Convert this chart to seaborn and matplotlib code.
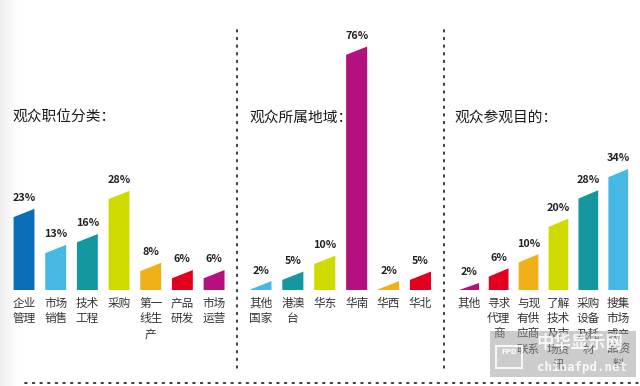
import numpy as np
import pandas as pd
import matplotlib
matplotlib.use("Agg")
import matplotlib.pyplot as plt
import seaborn as sns
from matplotlib.patches import Polygon, Rectangle

# panel 1: audience by job
job_labels = ["企业\n管理", "市场\n销售", "技术\n工程", "采购", "第一\n线生\n产", "产品\n研发", "市场\n运营"]
job_values = [23, 13, 16, 28, 8, 6, 6]
job_colors = ["#0a6fb6", "#45b9e3", "#14979f", "#cfdb00", "#f0b018", "#e3001f", "#b4107e"]

# panel 2: audience by region
region_labels = ["其他\n国家", "港澳\n台", "华东", "华南", "华西", "华北"]
region_values = [2, 5, 10, 76, 2, 5]
region_colors = ["#45b9e3", "#14979f", "#cfdb00", "#b4107e", "#f0b018", "#e3001f"]

# panel 3: purpose of visit
purpose_labels = ["其他", "寻求\n代理\n商", "与现\n有供\n应商\n联系", "了解\n技术\n及市\n场资\n讯",
                  "采购\n设备\n及耗\n材", "搜集\n市场\n或产\n品资\n料"]
purpose_values = [2, 6, 10, 20, 28, 34]
purpose_colors = ["#b4107e", "#e3001f", "#f0b018", "#cfdb00", "#14979f", "#45b9e3"]

titles = ["观众职位分类：", "观众所属地域：", "观众参观目的："]

sns.set_style("white")
plt.rcParams["font.family"] = ["Noto Sans CJK SC", "DejaVu Sans"]

W, H = 640, 386
fig = plt.figure(figsize=(6.4, 3.86), dpi=100)
fig.patch.set_facecolor("white")

# faint grey shade on the left edge
bg = fig.add_axes([0, 0, 18 / W, 1], zorder=-5)
bg.imshow(np.linspace(0.93, 1.0, 50)[None, :], cmap="gray", vmin=0, vmax=1,
          aspect="auto", extent=[0, 1, 0, 1])
bg.axis("off")

base_px = 290   # baseline, pixels from top
top_px = 30

# (left px, width px, px per %, zero offset %, title x px)
panels = [
    (job_labels, job_values, job_colors, 8.2, 221.7, 3.6, 1.6, 12),
    (region_labels, region_values, region_colors, 245.0, 191.4, 3.17, 0.5, 249),
    (purpose_labels, purpose_values, purpose_colors, 453.8, 179.4, 3.55, 1.07, 454),
]

for i, (labels, values, colors, left, width, scale, off, tx) in enumerate(panels):
    ax = fig.add_axes([left / W, 1 - base_px / H, width / W, (base_px - top_px) / H])
    df = pd.DataFrame({"cat": range(len(values)), "val": values})
    sns.barplot(data=df, x="cat", y="val", hue="cat", palette=colors,
                width=0.66, legend=False, ax=ax, saturation=1)
    ylo = off
    yhi = off + (base_px - top_px) / scale
    ax.set_ylim(ylo, yhi)
    ax.set_xlim(-0.5, len(values) - 0.5)
    slant = 8.3 / scale
    # turn each bar into a slanted-top shape
    for p, c in zip(list(ax.patches), colors):
        x0 = p.get_x()
        x1 = x0 + p.get_width()
        h = p.get_height()
        p.remove()
        yl = max(h - slant / 2, ylo)
        yr = h + slant / 2
        ax.add_patch(Polygon([(x0, ylo), (x1, ylo), (x1, yr), (x0, yl)],
                             closed=True, facecolor=c, edgecolor="none"))
        ax.annotate(f"{int(round(h))}%", (x0 + (x1 - x0) / 2, yr),
                    xytext=(0, 4), textcoords="offset points",
                    ha="center", va="bottom", fontsize=7.8, fontweight="bold",
                    color="#222222")
    for k, lab in enumerate(labels):
        ax.text(k, ylo - 7 / scale, lab, ha="center", va="top", fontsize=8.4,
                color="#333333", linespacing=1.22)
    ax.axis("off")
    fig.text(tx / W, 1 - 118 / H, titles[i], fontsize=10.6, color="#1a1a1a",
             va="center", ha="left")

# dotted separators
dots = dict(color="#222222", linestyle=(0, (1, 3.4)), linewidth=1.25,
            solid_capstyle="round", dash_capstyle="round")
for xp in [237, 444]:
    fig.add_artist(plt.Line2D([xp / W, xp / W], [1 - 30 / H, 1 - 372 / H], **dots))
fig.add_artist(plt.Line2D([25 / W, 638 / W], [1 - 383 / H, 1 - 383 / H], **dots))

# watermark box
fig.add_artist(Rectangle((490 / W, 1 - 377 / H), 146 / W, 46 / H,
                         transform=fig.transFigure, facecolor="#9a9a9a",
                         alpha=0.5, edgecolor="none"))
fig.add_artist(Rectangle((496 / W, 1 - 368 / H), 26 / W, 22 / H,
                         transform=fig.transFigure, facecolor="none",
                         edgecolor="white", linewidth=1.5, alpha=0.85))
fig.text(509 / W, 1 - 352 / H, "FPD", fontsize=5, color="white",
         ha="center", va="center", fontweight="bold", family="DejaVu Sans")
fig.text(580 / W, 1 - 343 / H, "中华显示网", fontsize=12.5, color="white",
         ha="center", va="center", fontweight="bold", alpha=0.85)
fig.text(582 / W, 1 - 367 / H, "chinafpd.net", fontsize=9, color="white",
         ha="center", va="center", fontweight="bold", alpha=0.85,
         family="DejaVu Sans Mono")

fig.savefig("out.png", dpi=100)
